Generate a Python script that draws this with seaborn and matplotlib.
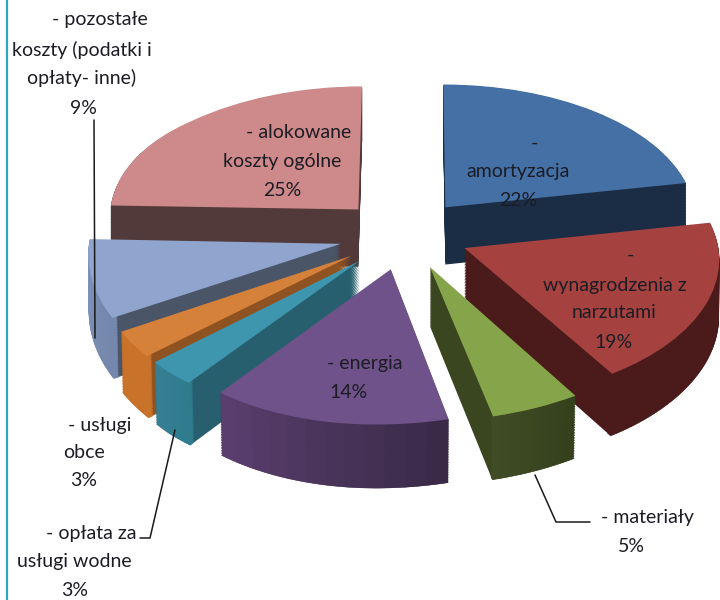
# %% Requirements and constants
import numpy as np
import seaborn as sns
import matplotlib
matplotlib.use('Agg')
import matplotlib.pyplot as plt
import matplotlib.transforms as mtransforms

categories = ['amortyzacja', 'wynagrodzenia z narzutami', 'materiały', 'energia',
              'opłata za usługi wodne', 'usługi obce', 'pozostałe koszty', 'alokowane koszty ogólne']
shares = [22, 19, 5, 14, 3, 3, 9, 25]

top_colors = ['#4470A5', '#A54240', '#86A44A', '#6F5289', '#3D96AE', '#D5813A', '#8FA5CE', '#CE8A8A']
cut_colors = ['#1A2D44', '#4A1B1A', '#3A4620', '#3C2C4B', '#275F6E', '#8F5322', '#4A5568', '#533A3A']
arc_start = ['#1A2D44', '#4A1B1A', '#35411D', '#3A2A48', '#2F7C8E', '#C8722A', '#7488AE', '#533A3A']
arc_end = ['#1A2D44', '#4A1B1A', '#404C25', '#5A3F6E', '#377F94', '#C8722A', '#8195BA', '#533A3A']

# back to front
draw_order = [7, 0, 6, 1, 5, 4, 2, 3]

label_lines = [
    ('- pozostałe', 100, 20), ('koszty (podatki i', 82, 50), ('opłaty- inne)', 82, 78), ('9%', 83, 108),
    ('- alokowane', 299, 132), ('koszty ogólne', 282, 161), ('25%', 282, 190),
    ('-', 534, 143), ('amortyzacja', 518, 172), ('22%', 518, 201),
    ('-', 630, 255), ('wynagrodzenia z', 615, 285), ('narzutami', 614, 313), ('19%', 614, 343),
    ('- energia', 365, 363), ('14%', 349, 392),
    ('- materiały', 647, 518), ('5%', 631, 546),
    ('- usługi', 100, 425), ('obce', 84, 453), ('3%', 84, 481),
    ('- opłata za', 91, 533), ('usługi wodne', 74, 562), ('3%', 75, 591),
]

leader_x = [[94, 95], [140, 150, 175], [535, 556, 590]]
leader_y = [[120, 338], [538, 538, 430], [475, 522, 522]]

DEPTH = 58
N_SUB = 12


# %% Function and class
class Tilt(mtransforms.Transform):
    """Unit-disc coordinates to pixels, fitted by eye to the tilted pie."""
    input_dims = 2
    output_dims = 2

    def __init__(self, drop=0):
        super().__init__()
        self.drop = drop

    def transform_non_affine(self, values):
        x, y = np.asarray(values).T
        w = 1 + 0.07 * y
        front = np.minimum(y, 0) ** 2
        far_left = np.clip(-x - 0.85, 0, None)
        px = (404 + 252 * x + 29 * y) / w - 8.5 * front * np.clip((0.8 - x) / 0.8, 0, 1)
        px = px + 16 * np.clip(-x - 1.1, 0, None)
        py = 234 - 135 * y / w + 3 * front - 12 * far_left
        lean = 2 * x * np.clip(-y, 0, 1) * self.drop / DEPTH
        return np.column_stack([px - lean, py + self.drop / w])


# %% Play ground
sns.set_theme(style='white')
plt.rcParams['font.family'] = ['Lato', 'DejaVu Sans']

fig = plt.figure(figsize=(7.2, 6), dpi=100)
ax = fig.add_axes([0, 0, 1, 1])

explode = [0.26] * len(shares)
top, _ = ax.pie(shares, colors=top_colors, explode=explode, startangle=90, counterclock=False)
for i, wedge in enumerate(top):
    wedge.set_transform(Tilt() + ax.transData)
    wedge.set_linewidth(0)
    wedge.set_zorder(draw_order.index(i) * 10 + 3)

sub_shares = np.repeat(np.array(shares) / N_SUB, N_SUB)
sub_colors = []
for c0, c1 in zip(arc_start, arc_end):
    sub_colors += sns.blend_palette([c0, c1], N_SUB)

for drop in np.arange(DEPTH, 0, -1.5):
    tilt = Tilt(drop) + ax.transData
    cuts, _ = ax.pie(shares, colors=cut_colors, explode=explode, startangle=90, counterclock=False)
    for i, wedge in enumerate(cuts):
        wedge.set_transform(tilt)
        wedge.set_linewidth(0)
        wedge.set_zorder(draw_order.index(i) * 10 + 1)

    rings, _ = ax.pie(sub_shares, colors=sub_colors, startangle=90, counterclock=False,
                      wedgeprops=dict(width=0.02))
    for k, wedge in enumerate(rings):
        i = k // N_SUB
        wedge.set_center(top[i].center)
        wedge.set_transform(tilt)
        wedge.set_edgecolor(wedge.get_facecolor())
        wedge.set_linewidth(0.3)
        wedge.set_zorder(draw_order.index(i) * 10 + 2)

for xs, ys in zip(leader_x, leader_y):
    ax.plot(xs, ys, color='#1a1a1a', lw=1.1, zorder=150)

ax.axvline(6.5, color='#2BA6C4', lw=1.6, zorder=160)

for text, x, y in label_lines:
    ax.text(x, y, text, ha='center', va='center', fontsize=14, color='#1c1c24', zorder=200)

ax.set_aspect('auto')
ax.set_xlim(0, 720)
ax.set_ylim(600, 0)
ax.axis('off')

fig.savefig('out.png', dpi=100, facecolor='white')
